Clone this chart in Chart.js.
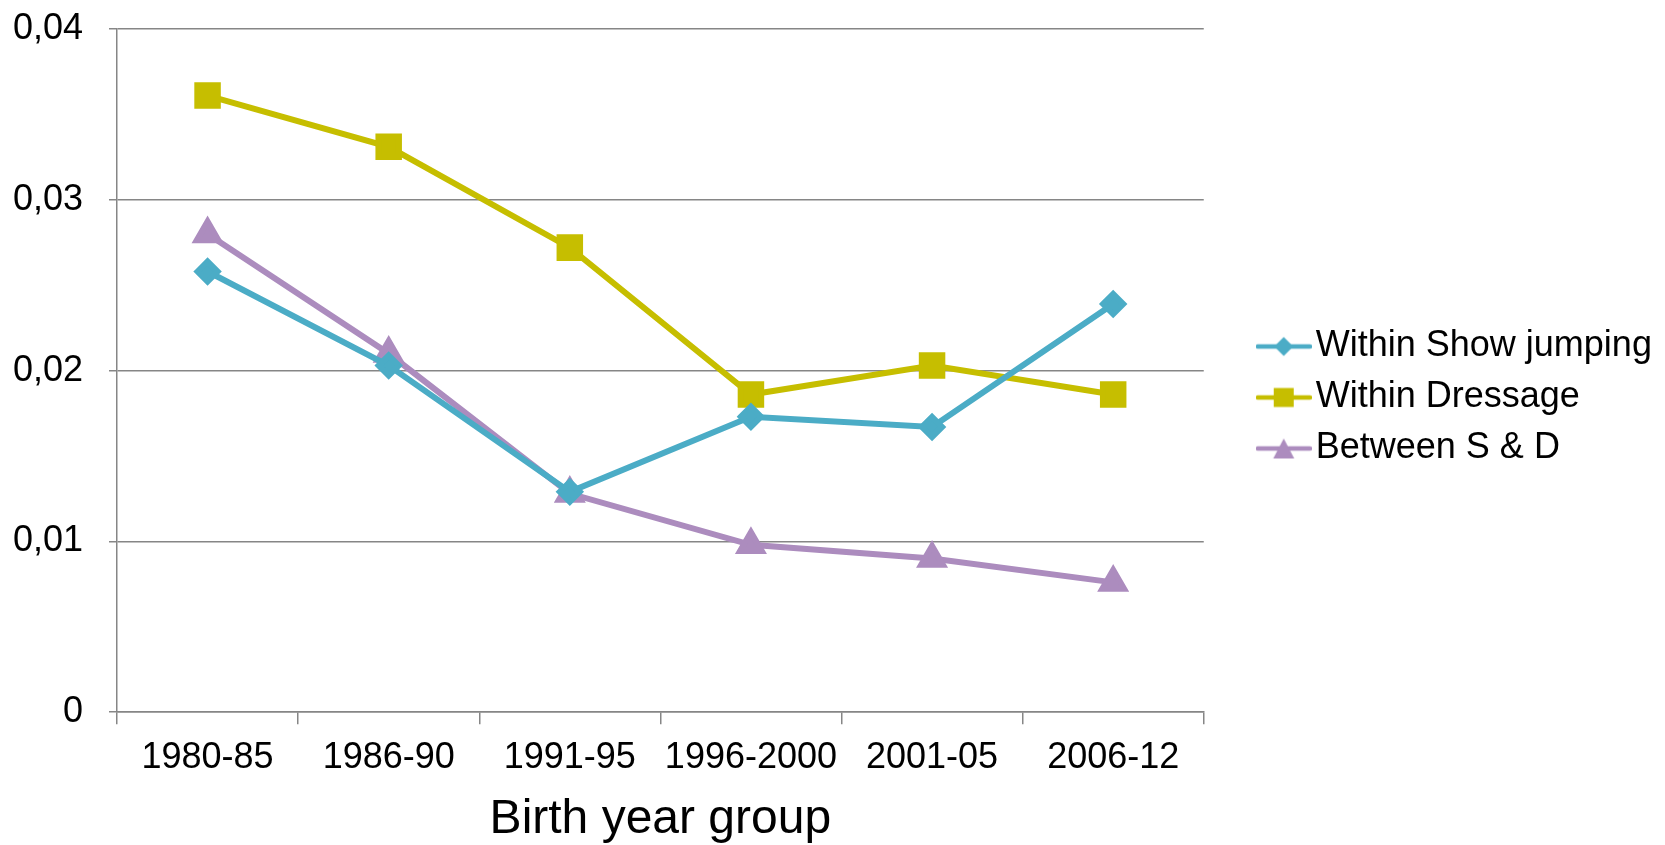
<!DOCTYPE html>
<html>
<head>
<meta charset="utf-8">
<script src="https://cdn.jsdelivr.net/npm/chart.js@4.4.1/dist/chart.umd.min.js"></script>
<style>
  html, body { margin: 0; padding: 0; background: #fff; }
  #wrap { width: 1665px; height: 845px; }
</style>
</head>
<body>
<div id="wrap"><canvas id="myChart" width="1665" height="845"></canvas></div>
<script>
var categories = ['1980-85', '1986-90', '1991-95', '1996-2000', '2001-05', '2006-12'];
var showJumping = [0.0258, 0.0203, 0.0129, 0.0173, 0.0167, 0.0239];
var dressage = [0.0361, 0.0331, 0.0272, 0.0186, 0.0203, 0.0186];
var betweenSD = [0.0280, 0.0210, 0.0128, 0.0098, 0.0090, 0.0076];
var yTickLabels = ['0', '0,01', '0,02', '0,03', '0,04'];

var FONT = 'Liberation Sans, Arial, sans-serif';
var GRID = '#868686';
var LEGEND_SHIFT_X = 51;
var LEGEND_SHIFT_Y = -27;

// legend icon: short line with the marker in the middle
function legendIcon(color, shape) {
    var c = document.createElement('canvas');
    c.width = 56; c.height = 22;
    var g = c.getContext('2d');
    g.strokeStyle = color;
    g.lineWidth = 4.5;
    g.lineCap = 'round';
    g.beginPath(); g.moveTo(2, 11); g.lineTo(54, 11); g.stroke();
    g.fillStyle = color;
    g.beginPath();
    if (shape === 'diamond') {
        g.moveTo(28, 1.5); g.lineTo(37.5, 11); g.lineTo(28, 20.5); g.lineTo(18.5, 11);
    } else if (shape === 'square') {
        g.rect(18, 1.5, 20, 19);
    } else {
        g.moveTo(28, 1); g.lineTo(38.5, 21); g.lineTo(17.5, 21);
    }
    g.closePath(); g.fill();
    return c;
}

var colors = ['#4BACC6', '#C6BE00', '#AC8CBE'];
var icons = [legendIcon(colors[0], 'diamond'), legendIcon(colors[1], 'square'), legendIcon(colors[2], 'triangle')];

// nudge the legend next to the plot, like the original
var legendNudge = {
    id: 'legendNudge',
    afterLayout: function (chart) {
        var lg = chart.legend;
        if (!lg) return;
        lg.left += LEGEND_SHIFT_X; lg.right += LEGEND_SHIFT_X;
        lg.top += LEGEND_SHIFT_Y; lg.bottom += LEGEND_SHIFT_Y;
    }
};

var ctx = document.getElementById('myChart').getContext('2d');
var myChart = new Chart(ctx, {
    type: 'line',
    data: {
        labels: categories,
        datasets: [{
            label: 'Within Show jumping',
            data: showJumping,
            borderColor: colors[0],
            backgroundColor: colors[0],
            borderWidth: 6,
            pointStyle: 'rectRot',
            pointRadius: 10,
            pointHoverRadius: 10
        }, {
            label: 'Within Dressage',
            data: dressage,
            borderColor: colors[1],
            backgroundColor: colors[1],
            borderWidth: 6,
            pointStyle: 'rect',
            pointRadius: 14.5,
            pointHoverRadius: 14.5
        }, {
            label: 'Between S & D',
            data: betweenSD,
            borderColor: colors[2],
            backgroundColor: colors[2],
            borderWidth: 6,
            pointStyle: 'triangle',
            pointRadius: 12.5,
            pointHoverRadius: 12.5
        }]
    },
    plugins: [legendNudge],
    options: {
        responsive: false,
        animation: false,
        devicePixelRatio: 1,
        layout: { padding: { top: 4, right: 9 + LEGEND_SHIFT_X, bottom: 0, left: 0 } },
        plugins: {
            tooltip: { enabled: false },
            legend: {
                position: 'right',
                labels: {
                    usePointStyle: true,
                    pointStyleWidth: 28,
                    padding: 15,
                    color: '#000',
                    font: { family: FONT, size: 36 },
                    generateLabels: function (chart) {
                        return chart.data.datasets.map(function (ds, i) {
                            return {
                                text: ds.label,
                                pointStyle: icons[i],
                                fillStyle: ds.borderColor,
                                strokeStyle: ds.borderColor,
                                lineWidth: 0,
                                fontColor: '#000',
                                datasetIndex: i,
                                hidden: false
                            };
                        });
                    }
                }
            }
        },
        scales: {
            x: {
                offset: true,
                grid: {
                    drawOnChartArea: false,
                    offset: true,
                    color: GRID,
                    lineWidth: 1.5,
                    tickLength: 12
                },
                border: { color: GRID, width: 1.5 },
                ticks: {
                    color: '#000',
                    padding: 12,
                    maxRotation: 0,
                    font: { family: FONT, size: 36 }
                },
                title: {
                    display: true,
                    text: 'Birth year group',
                    color: '#000',
                    padding: { top: 0, bottom: -4 },
                    font: { family: FONT, size: 48 }
                }
            },
            y: {
                min: 0,
                max: 0.04,
                afterFit: function (scale) {
                    scale.width = 117;
                    scale.paddingTop = 29;
                },
                ticks: {
                    stepSize: 0.01,
                    color: '#000',
                    padding: 26,
                    font: { family: FONT, size: 36 },
                    callback: function (v, i) { return yTickLabels[i]; }
                },
                grid: {
                    color: GRID,
                    lineWidth: 1.5,
                    tickLength: 8
                },
                border: { color: GRID, width: 1.5 }
            }
        }
    }
});
</script>
</body>
</html>
